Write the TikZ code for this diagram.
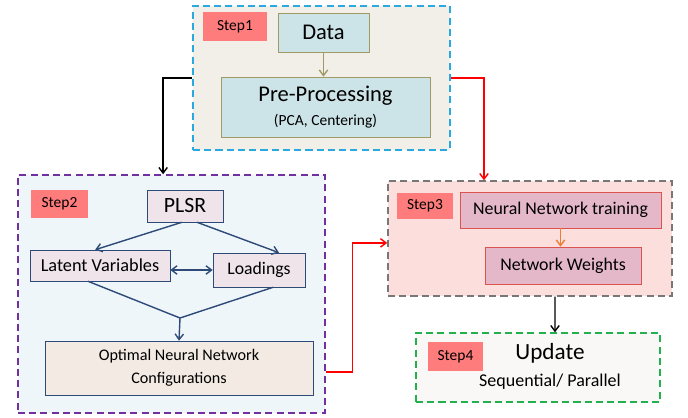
\documentclass[tikz,border=0pt]{standalone}
\usepackage{fontspec}
\setmainfont{Carlito}
\usepackage{tikz}
\usetikzlibrary{arrows.meta}
\definecolor{frameone}{HTML}{2AA8E0}
\definecolor{fillone}{HTML}{F2EFE8}
\definecolor{frametwo}{HTML}{7030A0}
\definecolor{filltwo}{HTML}{EFF6F9}
\definecolor{framethree}{HTML}{777777}
\definecolor{fillthree}{HTML}{FCDEDD}
\definecolor{framefour}{HTML}{22B14C}
\definecolor{fillfour}{HTML}{FAF8F6}
\definecolor{tagred}{HTML}{FF7C7C}
\definecolor{datafill}{HTML}{CCE4E8}
\definecolor{olive}{HTML}{A09A66}
\definecolor{plsrfill}{HTML}{EEE4E9}
\definecolor{navy}{HTML}{2E4A78}
\definecolor{optfill}{HTML}{F3EBE3}
\definecolor{nnfill}{HTML}{E5B8C9}
\definecolor{nnline}{HTML}{D9534F}
\definecolor{orangearr}{HTML}{ED7D31}
\tikzset{
  stage/.style={draw, line width=1pt, dash pattern=on 5pt off 3pt},
  tag/.style={fill=tagred, font=\fontsize{11}{13}\selectfont, inner sep=0pt},
  blue box/.style={draw=olive, fill=datafill, inner sep=0pt},
  plsr box/.style={draw=navy, fill=plsrfill, inner sep=0pt},
  nn box/.style={draw=nnline, fill=nnfill, inner sep=0pt, font=\fontsize{12.7}{15}\selectfont},
  tip/.style={-{Straight Barb[length=4pt,width=6pt]}, line width=1pt},
}
\begin{document}
\begin{tikzpicture}[x=0.025cm,y=-0.025cm]
\useasboundingbox (0,0) rectangle (688,418);
% step 1
\node[stage, draw=frameone, fill=fillone, minimum width=6.425cm, minimum height=3.6cm] (s1) at (321.5,78) {};
\node[tag, minimum width=1.6cm, minimum height=0.725cm] (t1) at (235,26.5) {Step1};
\node[blue box, minimum width=2.275cm, minimum height=0.975cm, font=\fontsize{16}{19}\selectfont] (data) at (323.5,32.5) {Data};
\node[blue box, minimum width=5.225cm, minimum height=1.5cm, align=center] (pre) at (325.5,107)
  {{\fontsize{16}{19}\selectfont Pre-Processing}\\[5pt]{\fontsize{11}{13}\selectfont (PCA, Centering)}};
\draw[tip, draw=olive] (data.south) -- (data.south |- pre.north);
% step 2
\node[stage, draw=frametwo, fill=filltwo, minimum width=7.675cm, minimum height=5.95cm] (s2) at (171.5,294) {};
\node[tag, minimum width=1.425cm, minimum height=0.7cm] (t2) at (59.5,204) {Step2};
\node[plsr box, minimum width=1.9cm, minimum height=0.8cm, font=\fontsize{15.5}{18}\selectfont] (plsr) at (185,206) {PLSR};
\node[plsr box, minimum width=3.5cm, minimum height=0.775cm, font=\fontsize{13}{15}\selectfont] (lv) at (100,265.5) {Latent Variables};
\node[plsr box, minimum width=2.3cm, minimum height=0.85cm, font=\fontsize{12.6}{15}\selectfont] (load) at (259,270) {Loadings};
\node[draw=navy, fill=optfill, inner sep=0pt, minimum width=6.7cm, minimum height=1.35cm, align=center, font=\fontsize{11.5}{16}\selectfont] (opt) at (179,368)
  {Optimal Neural Network\\Configurations};
\coordinate (merge) at (180,318);
\draw[tip, draw=navy] ([xshift=-0.08cm]plsr.south) -- ([xshift=-0.12cm]lv.north);
\draw[tip, draw=navy] ([xshift=0.3cm]plsr.south) -- ([xshift=0.5cm]load.north);
\draw[tip, draw=navy, {Straight Barb[length=4pt,width=6pt]}-{Straight Barb[length=4pt,width=6pt]}] (load.west -| lv.east) -- (load.west);
\draw[navy, line width=1pt] ([xshift=-0.3cm]lv.south) -- (merge) -- ([xshift=0.35cm]load.south);
\draw[tip, draw=navy] (merge) -- (opt.north);
% step 3
\node[stage, draw=framethree, fill=fillthree, minimum width=7.1cm, minimum height=2.875cm] (s3) at (530,238.5) {};
\node[tag, minimum width=1.4cm, minimum height=0.65cm] (t3) at (425,206) {Step3};
\node[nn box, minimum width=5.025cm, minimum height=0.9cm] (nn) at (560.5,210) {Neural Network training};
\node[nn box, minimum width=3.9cm, minimum height=0.925cm] (nw) at (563,265.5) {Network Weights};
\draw[tip, draw=orangearr] (nn.south) -- (nn.south |- nw.north);
% step 4
\node[stage, draw=framefour, fill=fillfour, minimum width=6.1cm, minimum height=1.725cm] (s4) at (538,367.5) {};
\node[tag, minimum width=1.375cm, minimum height=0.725cm] (t4) at (455.5,356.5) {Step4};
\node[font=\fontsize{16.5}{19}\selectfont, inner sep=0pt] (upd) at (550,353) {Update};
\node[font=\fontsize{12.8}{15}\selectfont, inner sep=0pt] (mode) at (550,382) {Sequential/ Parallel};
% links between steps
\draw[tip] (s1.west) -| ([xshift=-0.21cm]s2.north);
\draw[tip, draw=red] (s1.east) -| ([xshift=-1.15cm]s3.north);
\draw[tip, draw=red] ([yshift=-1.95cm]s2.east) -- ++(27,0) |- ([yshift=-0.11cm]s3.west);
\draw[tip] ([xshift=0.625cm]s3.south) -- ([xshift=0.425cm]s4.north);
\end{tikzpicture}
\end{document}
